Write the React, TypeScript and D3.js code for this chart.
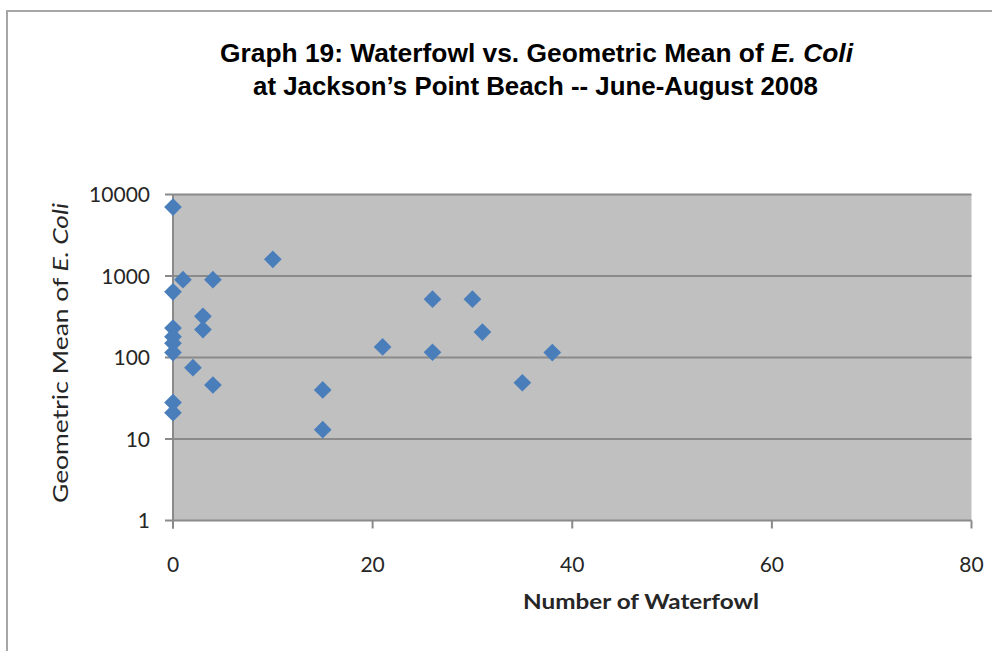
import React from "react";
import * as d3 from "d3";

const waterfowl = [0, 1, 0, 4, 10, 3, 3, 0, 0, 0, 0, 2, 4, 0, 0, 15, 15, 21, 26, 30, 31, 26, 38, 35];
const ecoli = [7000, 900, 640, 900, 1600, 320, 220, 230, 180, 150, 115, 75, 46, 28, 21, 40, 13, 135, 520, 520, 205, 116, 115, 49];
const xTicks = [0, 20, 40, 60, 80];
const yTicks = [1, 10, 100, 1000, 10000];
const titleLine1 = "Graph 19: Waterfowl  vs.  Geometric  Mean  of ";
const titleItalic = "E. Coli";
const titleLine2 = "at Jackson\u2019s  Point Beach  -- June-August  2008";
const yTitle = "Geometric Mean of ";
const yTitleItalic = "E. Coli";
const xTitle = "Number of Waterfowl";

const W = 992;
const H = 651;
const plot = { left: 173, right: 971.5, top: 194.5, bottom: 520.5 };

export default function App() {
  const x = d3.scaleLinear().domain([0, 80]).range([plot.left, plot.right]);
  const y = d3.scaleLog().domain([1, 10000]).range([plot.bottom, plot.top]);
  const diamond = d3.symbol().type(d3.symbolDiamond2).size(200)();
  const labelFont = "Lato, 'Open Sans', sans-serif";
  const titleFont = "'Liberation Sans Narrow', 'Arial Narrow', 'Liberation Sans', Arial, sans-serif";
  const pts = waterfowl.map((w, i) => ({ w, v: ecoli[i] }));
  return (
    <div style={{ position: "absolute", left: 0, top: 0 }}>
      <svg width={W} height={H} style={{ display: "block" }}>
        <rect x={0} y={0} width={W} height={H} fill="#ffffff" />
        <path d={`M7,${H} L7,11 L${W},11`} fill="none" stroke="#a6a6a6" strokeWidth={2} />
        <text
          x={536.5}
          y={62}
          textAnchor="middle"
          fontFamily={titleFont}
          fontWeight="bold"
          fontSize={26}
          textLength={633}
          lengthAdjust="spacingAndGlyphs"
          fill="#000"
        >
          {titleLine1}
          <tspan fontStyle="italic">{titleItalic}</tspan>
        </text>
        <text
          x={535.5}
          y={95}
          textAnchor="middle"
          fontFamily={titleFont}
          fontWeight="bold"
          fontSize={26}
          textLength={565}
          lengthAdjust="spacingAndGlyphs"
          fill="#000"
        >
          {titleLine2}
        </text>
        <rect
          x={plot.left}
          y={plot.top}
          width={plot.right - plot.left}
          height={plot.bottom - plot.top}
          fill="#c0c0c0"
        />
        {yTicks.map((t) => (
          <g key={"y" + t}>
            <line x1={165} x2={plot.right} y1={y(t)} y2={y(t)} stroke="#8a8a8a" strokeWidth={2} />
            <text
              x={150}
              y={y(t) + 7.5}
              textAnchor="end"
              fontFamily={labelFont}
              fontSize={21}
              fill="#262626"
            >
              {t}
            </text>
          </g>
        ))}
        <line x1={plot.left} x2={plot.left} y1={plot.top} y2={plot.bottom + 8} stroke="#8a8a8a" strokeWidth={2} />
        {xTicks.map((t) => (
          <g key={"x" + t}>
            <line x1={x(t)} x2={x(t)} y1={plot.bottom} y2={plot.bottom + 8} stroke="#8a8a8a" strokeWidth={2} />
            <text
              x={x(t)}
              y={572}
              textAnchor="middle"
              fontFamily={labelFont}
              fontSize={21}
              fill="#262626"
            >
              {t}
            </text>
          </g>
        ))}
        <text
          x={641}
          y={609}
          textAnchor="middle"
          fontFamily={labelFont}
          fontWeight="bold"
          fontSize={21}
          textLength={236}
          lengthAdjust="spacingAndGlyphs"
          fill="#262626"
        >
          {xTitle}
        </text>
        <text
          transform="translate(68,353) rotate(-90)"
          textAnchor="middle"
          fontFamily={labelFont}
          fontSize={21}
          textLength={300}
          lengthAdjust="spacingAndGlyphs"
          fill="#262626"
        >
          {yTitle}
          <tspan fontStyle="italic">{yTitleItalic}</tspan>
        </text>
        {pts.map((p, i) => (
          <path
            key={i}
            d={diamond || ""}
            transform={`translate(${x(p.w)},${y(p.v)})`}
            fill="#4a7ebb"
          />
        ))}
      </svg>
    </div>
  );
}
